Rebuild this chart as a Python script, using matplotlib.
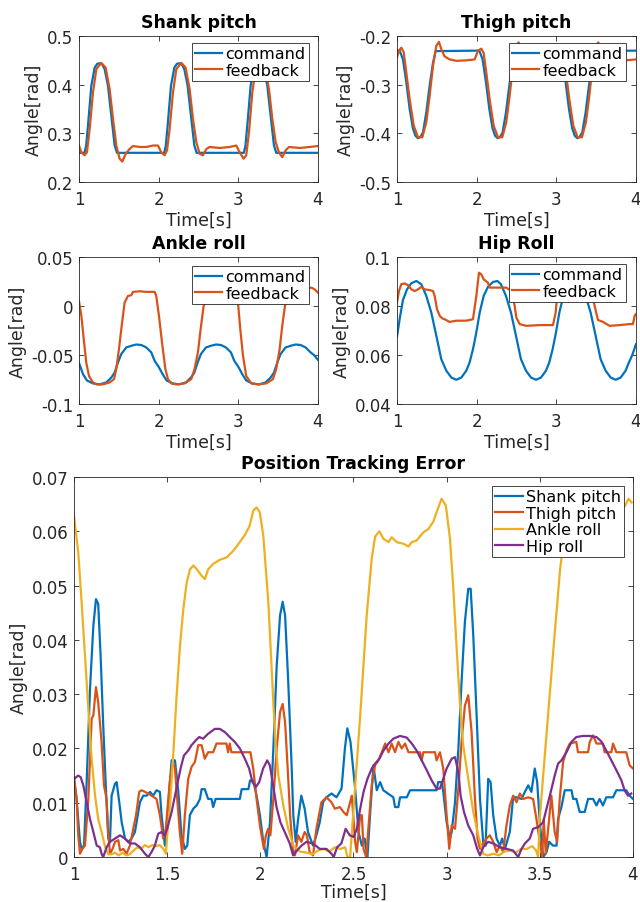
import matplotlib
matplotlib.use("Agg")
import matplotlib.pyplot as plt

plt.rcParams['font.family'] = ['DejaVu Sans']
plt.rcParams['axes.unicode_minus'] = False

C_BLUE = '#0072BD'
C_RED = '#D95319'
C_YEL = '#EDB120'
C_PUR = '#7E2F8E'

# ---------------- Shank pitch ----------------
shank_cmd_t = [1.0, 1.07, 1.09, 1.113, 1.155, 1.197, 1.23, 1.26, 1.29, 1.322, 1.364, 1.406, 1.448, 1.477,
               2.07, 2.09, 2.113, 2.155, 2.197, 2.23, 2.26, 2.29, 2.322, 2.364, 2.406, 2.448, 2.477,
               3.07, 3.09, 3.113, 3.155, 3.197, 3.23, 3.26, 3.29, 3.322, 3.364, 3.406, 3.448, 3.477, 4.0]
shank_cmd_v = [0.26, 0.26, 0.275, 0.316, 0.398, 0.435, 0.443, 0.444, 0.442, 0.432, 0.398, 0.336, 0.275, 0.26,
               0.26, 0.275, 0.316, 0.398, 0.435, 0.443, 0.444, 0.442, 0.432, 0.398, 0.336, 0.275, 0.26,
               0.26, 0.275, 0.316, 0.398, 0.435, 0.443, 0.444, 0.442, 0.432, 0.398, 0.336, 0.275, 0.26, 0.26]
shank_fb_t = [1.0, 1.03, 1.07, 1.1, 1.134, 1.176, 1.218, 1.28, 1.335, 1.385, 1.427, 1.469, 1.51, 1.544,
              1.586, 1.636, 1.678, 1.762, 1.845, 1.929, 1.992, 2.033, 2.075, 2.105, 2.138, 2.18, 2.222,
              2.285, 2.339, 2.389, 2.431, 2.473, 2.515, 2.556, 2.6, 2.64, 2.766, 2.891, 2.975, 3.017,
              3.067, 3.1, 3.134, 3.176, 3.218, 3.28, 3.335, 3.385, 3.427, 3.469, 3.51, 3.552, 3.594,
              3.636, 3.77, 3.895, 4.0]
shank_fb_v = [0.275, 0.261, 0.255, 0.261, 0.309, 0.384, 0.432, 0.445, 0.435, 0.391, 0.33, 0.275, 0.248, 0.242,
              0.258, 0.268, 0.274, 0.272, 0.272, 0.275, 0.275, 0.261, 0.255, 0.265, 0.309, 0.384, 0.432,
              0.445, 0.435, 0.391, 0.33, 0.282, 0.258, 0.255, 0.268, 0.272, 0.270, 0.272, 0.275, 0.261,
              0.248, 0.255, 0.302, 0.384, 0.432, 0.445, 0.435, 0.391, 0.33, 0.282, 0.261, 0.251, 0.265,
              0.272, 0.270, 0.272, 0.274]

# ---------------- Thigh pitch ----------------
thigh_cmd_t = [1.0, 1.033, 1.075, 1.117, 1.159, 1.2, 1.232, 1.264, 1.295, 1.326, 1.368, 1.41, 1.452, 1.485,
               2.033, 2.075, 2.117, 2.159, 2.2, 2.232, 2.264, 2.295, 2.326, 2.368, 2.41, 2.452, 2.485,
               3.033, 3.075, 3.117, 3.159, 3.2, 3.232, 3.264, 3.295, 3.326, 3.368, 3.41, 3.452, 3.485, 4.0]
thigh_cmd_v = [-0.23, -0.23, -0.248, -0.295, -0.35, -0.39, -0.405, -0.41, -0.407, -0.398, -0.357, -0.302, -0.255, -0.231,
               -0.23, -0.248, -0.295, -0.35, -0.39, -0.405, -0.41, -0.407, -0.398, -0.357, -0.302, -0.255, -0.231,
               -0.23, -0.248, -0.295, -0.35, -0.39, -0.405, -0.41, -0.407, -0.398, -0.357, -0.302, -0.255, -0.231, -0.23]
thigh_fb_t = [1.0, 1.025, 1.054, 1.084, 1.117, 1.159, 1.21, 1.264, 1.318, 1.368, 1.41, 1.452, 1.494, 1.527,
              1.556, 1.598, 1.661, 1.745, 1.87, 1.975, 2.017, 2.059, 2.088, 2.121, 2.163, 2.213, 2.268,
              2.322, 2.372, 2.414, 2.456, 2.498, 2.527, 2.556, 2.6, 2.66, 2.75, 2.87, 2.975, 3.017,
              3.059, 3.088, 3.121, 3.163, 3.213, 3.268, 3.322, 3.372, 3.414, 3.456, 3.498, 3.527, 3.556,
              3.6, 3.66, 3.75, 3.87, 4.0]
thigh_fb_v = [-0.244, -0.23, -0.224, -0.233, -0.275, -0.33, -0.384, -0.408, -0.408, -0.377, -0.323, -0.261, -0.22, -0.212,
              -0.227, -0.242, -0.248, -0.251, -0.25, -0.248, -0.23, -0.226, -0.235, -0.275, -0.33, -0.384, -0.408,
              -0.408, -0.377, -0.323, -0.261, -0.22, -0.213, -0.227, -0.242, -0.248, -0.251, -0.25, -0.248, -0.23,
              -0.226, -0.235, -0.275, -0.33, -0.384, -0.408, -0.408, -0.377, -0.323, -0.261, -0.22, -0.213, -0.227,
              -0.242, -0.248, -0.251, -0.25, -0.248]

# ---------------- Ankle roll ----------------
ankle_cmd_t = [1.0, 1.05, 1.1, 1.176, 1.26, 1.343, 1.406, 1.448, 1.49, 1.531, 1.594, 1.657, 1.72, 1.782, 1.845, 1.908, 1.95,
               2.0, 2.05, 2.1, 2.176, 2.26, 2.343, 2.406, 2.448, 2.49, 2.531, 2.594, 2.657, 2.72, 2.782, 2.845, 2.908, 2.95,
               3.0, 3.05, 3.1, 3.176, 3.26, 3.343, 3.406, 3.448, 3.49, 3.531, 3.594, 3.657, 3.72, 3.782, 3.845, 3.908, 3.95, 4.0]
ankle_cmd_v = [-0.058, -0.0695, -0.076, -0.079, -0.08, -0.078, -0.073, -0.068, -0.0576, -0.049, -0.0423, -0.0406, -0.0393, -0.0398, -0.0423, -0.0474, -0.056,
               -0.062, -0.0695, -0.076, -0.079, -0.08, -0.078, -0.073, -0.068, -0.0576, -0.049, -0.0423, -0.0406, -0.0393, -0.0398, -0.0423, -0.0474, -0.056,
               -0.062, -0.0695, -0.076, -0.079, -0.08, -0.078, -0.073, -0.068, -0.0576, -0.049, -0.0423, -0.0406, -0.0393, -0.0398, -0.0423, -0.0474, -0.050, -0.055]
ankle_fb_t = [1.0, 1.03, 1.06, 1.092, 1.126, 1.176, 1.218, 1.3, 1.385, 1.44, 1.469, 1.502, 1.536, 1.573, 1.615, 1.657,
              1.678, 1.762, 1.845, 1.95, 1.97, 2.004, 2.042, 2.084, 2.117, 2.159, 2.222, 2.326, 2.41, 2.452, 2.494,
              2.527, 2.565, 2.6, 2.65, 2.75, 2.9, 2.97, 2.996, 3.025, 3.059, 3.1, 3.163, 3.247, 3.351, 3.435, 3.477,
              3.519, 3.552, 3.586, 3.62, 3.7, 3.8, 3.916, 3.958, 4.0]
ankle_fb_v = [0.0052, -0.01, -0.034, -0.058, -0.0715, -0.078, -0.08, -0.08, -0.078, -0.0746, -0.064, -0.044, -0.0203, 0.0035, 0.0103, 0.011,
              0.0144, 0.015, 0.0144, 0.0144, 0.0103, -0.01, -0.037, -0.064, -0.0746, -0.079, -0.08, -0.079, -0.0746, -0.064, -0.047,
              -0.0237, 0.0, 0.010, 0.013, 0.015, 0.015, 0.012, 0.0035, -0.0237, -0.0508, -0.0715, -0.079, -0.08, -0.079, -0.0746, -0.064,
              -0.044, -0.0203, 0.0, 0.010, 0.014, 0.016, 0.0188, 0.017, 0.0137]

# ---------------- Hip roll ----------------
hip_cmd_t = [1.0, 1.033, 1.075, 1.126, 1.18, 1.243, 1.305, 1.368, 1.431, 1.494, 1.556, 1.619, 1.682, 1.745, 1.808, 1.87, 1.912, 1.954,
             1.996, 2.038, 2.088, 2.142, 2.205, 2.26, 2.305, 2.368, 2.431, 2.494, 2.556, 2.619, 2.682, 2.745, 2.808, 2.87, 2.912, 2.954,
             2.996, 3.038, 3.088, 3.142, 3.205, 3.26, 3.305, 3.368, 3.431, 3.494, 3.556, 3.619, 3.682, 3.745, 3.808, 3.87, 3.912, 3.954, 4.0]
hip_cmd_v = [0.0675, 0.0746, 0.0825, 0.0868, 0.0893, 0.0902, 0.0889, 0.0841, 0.0773, 0.0678, 0.0583, 0.0536, 0.0508, 0.0499, 0.0508, 0.0536, 0.057, 0.0624,
             0.0692, 0.0773, 0.0841, 0.0878, 0.0898, 0.0902, 0.0889, 0.0841, 0.0773, 0.0678, 0.0583, 0.0536, 0.0508, 0.0499, 0.0508, 0.0536, 0.057, 0.0624,
             0.0692, 0.0773, 0.0841, 0.0878, 0.0898, 0.0902, 0.0889, 0.0841, 0.0773, 0.0678, 0.0583, 0.0536, 0.0508, 0.0499, 0.0508, 0.0536, 0.057, 0.0600, 0.0644]
hip_fb_t = [1.0, 1.025, 1.054, 1.096, 1.138, 1.18, 1.222, 1.264, 1.305, 1.347, 1.41, 1.452, 1.473, 1.502, 1.536, 1.569,
            1.598, 1.661, 1.745, 1.87, 1.954, 1.996, 2.029, 2.059, 2.088, 2.142, 2.163, 2.247, 2.372, 2.435, 2.456, 2.477,
            2.498, 2.54, 2.623, 2.791, 2.958, 2.992, 3.02, 3.06, 3.1, 3.2, 3.35, 3.45, 3.481, 3.523, 3.586, 3.669,
            3.795, 3.92, 3.962, 3.983, 4.0]
hip_fb_v = [0.0814, 0.0861, 0.0889, 0.0892, 0.0885, 0.0868, 0.0861, 0.0868, 0.0878, 0.0868, 0.0865, 0.0861, 0.0841, 0.0787, 0.076, 0.0749,
            0.0746, 0.0735, 0.074, 0.074, 0.0746, 0.0841, 0.0936, 0.0929, 0.0909, 0.0895, 0.0875, 0.0875, 0.0875, 0.0861, 0.0841, 0.08,
            0.0753, 0.0726, 0.0719, 0.0722, 0.0722, 0.0773, 0.088, 0.090, 0.089, 0.088, 0.087, 0.085, 0.08, 0.0743, 0.0735, 0.0719,
            0.0722, 0.0726, 0.0726, 0.076, 0.0767]

# ---------------- Position tracking error ----------------
err_shank_t = [1.0, 1.014, 1.032, 1.041, 1.054, 1.068, 1.086, 1.104, 1.118, 1.13, 1.143, 1.157, 1.172, 1.184, 1.193, 1.202,
               1.22, 1.229, 1.243, 1.256, 1.274, 1.291, 1.309, 1.327, 1.354, 1.372, 1.39, 1.408, 1.425, 1.443, 1.461, 1.47,
               1.488, 1.5, 1.524, 1.542, 1.56, 1.577, 1.595, 1.608, 1.622, 1.64, 1.658, 1.676, 1.685, 1.702, 1.72, 1.738,
               1.747, 1.76, 1.89, 1.9, 1.936, 1.945, 1.962, 1.98, 1.998, 2.016, 2.034, 2.052, 2.07, 2.088, 2.106, 2.12,
               2.133, 2.15, 2.168, 2.177, 2.19, 2.203, 2.22, 2.238, 2.256, 2.283, 2.301, 2.319, 2.337, 2.355, 2.382, 2.409,
               2.436, 2.454, 2.467, 2.484, 2.5, 2.509, 2.527, 2.545, 2.56, 2.575, 2.589, 2.607, 2.625, 2.643, 2.66, 2.714,
               2.723, 2.741, 2.75, 2.786, 2.804, 2.946, 2.955, 2.973, 2.982, 3.0, 3.018, 3.027, 3.045, 3.063, 3.08, 3.098,
               3.116, 3.129, 3.143, 3.161, 3.179, 3.196, 3.209, 3.223, 3.236, 3.25, 3.268, 3.286, 3.298, 3.313, 3.339, 3.357,
               3.375, 3.402, 3.42, 3.438, 3.455, 3.473, 3.486, 3.5, 3.518, 3.536, 3.55, 3.571, 3.59, 3.598, 3.616, 3.634,
               3.67, 3.679, 3.696, 3.714, 3.741, 3.759, 3.786, 3.804, 3.821, 3.839, 3.857, 3.893, 3.911, 3.964, 3.982, 4.0]
err_shank_v = [0.0144, 0.0107, 0.0028, 0.0015, 0.0021, 0.0138, 0.031, 0.0426, 0.0475, 0.0466, 0.037, 0.0242, 0.012, 0.0034, 0.0028, 0.0113,
               0.0135, 0.0138, 0.0101, 0.0064, 0.0034, 0.0028, 0.0034, 0.0046, 0.0101, 0.0113, 0.0113, 0.012, 0.0113, 0.0123, 0.012, 0.0077,
               0.0021, 0.007, 0.0178, 0.0178, 0.012, 0.004, 0.0015, 0.0021, 0.0077, 0.0089, 0.0095, 0.0107, 0.0125, 0.0125, 0.0107, 0.0107,
               0.0092, 0.0107, 0.0107, 0.0125, 0.0125, 0.0141, 0.0141, 0.0113, 0.0077, 0.0028, 0.0, 0.0064, 0.0199, 0.0353, 0.0445, 0.047,
               0.0445, 0.0322, 0.0169, 0.0077, 0.0028, 0.007, 0.0113, 0.0089, 0.0046, 0.0021, 0.004, 0.0064, 0.0101, 0.011, 0.0117, 0.011,
               0.0126, 0.02, 0.0237, 0.0212, 0.0156, 0.0126, 0.0046, 0.0021, 0.0034, 0.0, 0.0077, 0.0169, 0.0123, 0.0138, 0.0123, 0.011,
               0.0092, 0.0092, 0.011, 0.011, 0.0123, 0.0123, 0.0138, 0.0138, 0.012, 0.0064, 0.0034, 0.0046, 0.0101, 0.02, 0.0322, 0.0433,
               0.0494, 0.0494, 0.0408, 0.026, 0.0107, 0.0028, 0.0021, 0.0144, 0.0138, 0.0077, 0.0034, 0.0021, 0.0034, 0.0015, 0.0046, 0.011,
               0.011, 0.0107, 0.012, 0.0132, 0.012, 0.0163, 0.0138, 0.0064, 0.0, 0.0009, 0.0028, 0.0021, 0.0021, 0.007, 0.0092, 0.0123,
               0.0123, 0.0107, 0.0107, 0.0083, 0.0083, 0.0107, 0.0107, 0.0095, 0.0107, 0.0095, 0.011, 0.011, 0.0123, 0.0123, 0.0113, 0.0107]

err_thigh_t = [1.0, 1.014, 1.023, 1.032, 1.045, 1.059, 1.077, 1.095, 1.104, 1.118, 1.13, 1.148, 1.161, 1.175, 1.184, 1.193,
               1.207, 1.22, 1.238, 1.247, 1.265, 1.282, 1.3, 1.315, 1.333, 1.35, 1.363, 1.381, 1.399, 1.417, 1.443, 1.461,
               1.479, 1.493, 1.514, 1.529, 1.542, 1.554, 1.568, 1.581, 1.595, 1.613, 1.631, 1.649, 1.667, 1.685, 1.702, 1.72,
               1.747, 1.765, 1.818, 1.827, 1.836, 1.845, 1.947, 1.962, 1.98, 1.998, 2.019, 2.03, 2.042, 2.054, 2.07, 2.088,
               2.106, 2.12, 2.133, 2.147, 2.16, 2.174, 2.186, 2.203, 2.22, 2.238, 2.25, 2.265, 2.283, 2.301, 2.328, 2.355,
               2.382, 2.4, 2.427, 2.446, 2.464, 2.491, 2.509, 2.518, 2.536, 2.545, 2.554, 2.568, 2.58, 2.598, 2.616, 2.634,
               2.652, 2.67, 2.688, 2.705, 2.723, 2.741, 2.759, 2.777, 2.795, 2.857, 2.866, 2.875, 2.938, 2.946, 2.964, 2.982,
               3.0, 3.014, 3.027, 3.045, 3.063, 3.08, 3.098, 3.116, 3.134, 3.152, 3.166, 3.179, 3.196, 3.214, 3.232, 3.25,
               3.268, 3.286, 3.304, 3.321, 3.339, 3.357, 3.375, 3.393, 3.411, 3.438, 3.464, 3.482, 3.5, 3.513, 3.521, 3.532,
               3.545, 3.562, 3.58, 3.593, 3.607, 3.625, 3.643, 3.661, 3.696, 3.705, 3.759, 3.768, 3.786, 3.804, 3.839, 3.848,
               3.884, 3.893, 3.911, 3.964, 3.982, 4.0]
err_thigh_v = [0.0147, 0.0107, 0.004, 0.0006, 0.0015, 0.0021, 0.0107, 0.0255, 0.0261, 0.0313, 0.0285, 0.0212, 0.0132, 0.0107, 0.0046, 0.0006,
               0.0015, 0.0028, 0.0031, 0.0012, 0.0015, 0.0006, 0.0021, 0.0046, 0.0077, 0.012, 0.0123, 0.012, 0.0117, 0.0113, 0.0107, 0.0077,
               0.0034, 0.0052, 0.0138, 0.0175, 0.0163, 0.0107, 0.0046, 0.0006, 0.0077, 0.0144, 0.0166, 0.0175, 0.0206, 0.0206, 0.0181, 0.0193,
               0.0193, 0.0209, 0.0209, 0.0193, 0.0209, 0.0193, 0.0193, 0.0163, 0.0107, 0.0058, 0.0015, 0.004, 0.0052, 0.004, 0.0107, 0.02,
               0.0267, 0.0282, 0.0248, 0.0163, 0.0077, 0.0015, 0.0003, 0.004, 0.0028, 0.0046, 0.004, 0.0009, 0.0003, 0.0052, 0.0101, 0.011,
               0.0101, 0.0089, 0.0092, 0.0083, 0.0077, 0.0113, 0.0028, 0.0009, 0.0077, 0.0077, 0.0015, 0.0, 0.0052, 0.0132, 0.0169, 0.0178,
               0.0193, 0.0209, 0.0193, 0.0209, 0.0193, 0.0212, 0.02, 0.0209, 0.0193, 0.0193, 0.0178, 0.0193, 0.0193, 0.0178, 0.0193, 0.0163,
               0.0077, 0.0015, 0.0058, 0.0052, 0.0126, 0.0212, 0.0279, 0.0298, 0.023, 0.0107, 0.0034, 0.0015, 0.0025, 0.0034, 0.004, 0.0028,
               0.0009, 0.0021, 0.0009, 0.0058, 0.0095, 0.0113, 0.0101, 0.0117, 0.0107, 0.011, 0.0107, 0.007, 0.0028, 0.0, 0.007, 0.0006,
               0.0052, 0.0113, 0.0046, 0.0028, 0.0107, 0.0175, 0.0196, 0.0209, 0.0212, 0.0193, 0.0193, 0.0212, 0.0224, 0.0209, 0.0209, 0.0193,
               0.0193, 0.0209, 0.0193, 0.0193, 0.0169, 0.0163]

err_ankle_t = [1.0, 1.023, 1.041, 1.059, 1.077, 1.095, 1.113, 1.13, 1.149, 1.166, 1.184, 1.2, 1.22, 1.24, 1.26, 1.28,
               1.3, 1.32, 1.34, 1.36, 1.38, 1.4, 1.42, 1.44, 1.46, 1.48, 1.493, 1.503, 1.515, 1.533, 1.551, 1.569,
               1.587, 1.605, 1.623, 1.641, 1.659, 1.685, 1.703, 1.72, 1.748, 1.78, 1.82, 1.855, 1.89, 1.917, 1.943, 1.962,
               1.98, 1.997, 2.016, 2.043, 2.061, 2.079, 2.097, 2.124, 2.15, 2.177, 2.213, 2.25, 2.28, 2.31, 2.34, 2.37,
               2.4, 2.43, 2.455, 2.468, 2.482, 2.536, 2.571, 2.598, 2.616, 2.639, 2.661, 2.688, 2.705, 2.732, 2.768, 2.795,
               2.813, 2.839, 2.875, 2.902, 2.929, 2.946, 2.973, 2.996, 3.018, 3.036, 3.054, 3.071, 3.089, 3.116, 3.143, 3.17,
               3.196, 3.22, 3.25, 3.28, 3.31, 3.34, 3.37, 3.4, 3.43, 3.46, 3.48, 3.491, 3.501, 3.537, 3.573, 3.609,
               3.627, 3.7, 3.8, 3.9, 3.958, 3.976, 3.993]
err_ankle_v = [0.0629, 0.0561, 0.0469, 0.0371, 0.0273, 0.018, 0.0113, 0.007, 0.0045, 0.002, 0.0005, 0.0005, 0.0008, 0.0003, 0.0008, 0.0003,
               0.0005, 0.0012, 0.0018, 0.0015, 0.0022, 0.0018, 0.0022, 0.002, 0.0022, 0.0015, 0.0006, 0.005, 0.0093, 0.019, 0.0298, 0.039,
               0.0457, 0.0506, 0.053, 0.0537, 0.053, 0.0518, 0.0512, 0.053, 0.054, 0.0547, 0.0552, 0.0564, 0.058, 0.0593, 0.061, 0.0638,
               0.0644, 0.0635, 0.0592, 0.047, 0.0346, 0.0223, 0.015, 0.0094, 0.0052, 0.0021, 0.001, 0.0008, 0.0005, 0.0012, 0.0015, 0.001,
               0.0018, 0.0015, 0.0018, 0.0, 0.0, 0.026, 0.0445, 0.055, 0.059, 0.060, 0.0586, 0.058, 0.0589, 0.058, 0.0577, 0.0572,
               0.058, 0.0583, 0.0598, 0.0604, 0.0618, 0.0635, 0.066, 0.0647, 0.0586, 0.0494, 0.0383, 0.0285, 0.0206, 0.0144, 0.0083, 0.004,
               0.0006, 0.0003, 0.0006, 0.0003, 0.001, 0.0012, 0.0008, 0.0015, 0.0015, 0.002, 0.0012, 0.0, 0.0077, 0.023, 0.0383, 0.053,
               0.058, 0.060, 0.061, 0.063, 0.0647, 0.066, 0.0653]

err_hip_t = [1.0, 1.023, 1.036, 1.05, 1.068, 1.086, 1.104, 1.122, 1.139, 1.148, 1.157, 1.175, 1.193, 1.22, 1.247, 1.273,
             1.3, 1.327, 1.354, 1.381, 1.399, 1.416, 1.434, 1.452, 1.47, 1.488, 1.5, 1.524, 1.55, 1.572, 1.59, 1.613,
             1.631, 1.654, 1.672, 1.693, 1.72, 1.756, 1.783, 1.81, 1.836, 1.863, 1.89, 1.917, 1.94, 1.958, 1.976, 1.994,
             2.015, 2.037, 2.051, 2.069, 2.087, 2.108, 2.131, 2.158, 2.176, 2.197, 2.221, 2.248, 2.283, 2.319, 2.355, 2.382,
             2.394, 2.412, 2.435, 2.458, 2.48, 2.501, 2.518, 2.536, 2.554, 2.575, 2.598, 2.616, 2.639, 2.661, 2.688, 2.714,
             2.75, 2.786, 2.813, 2.839, 2.866, 2.893, 2.92, 2.946, 2.964, 2.982, 3.0, 3.027, 3.045, 3.063, 3.075, 3.093,
             3.116, 3.143, 3.164, 3.179, 3.196, 3.223, 3.25, 3.286, 3.321, 3.357, 3.384, 3.402, 3.42, 3.446, 3.464, 3.491,
             3.518, 3.536, 3.554, 3.58, 3.598, 3.616, 3.643, 3.67, 3.696, 3.732, 3.768, 3.804, 3.83, 3.857, 3.884, 3.911,
             3.938, 3.955, 3.973, 3.991]
err_hip_v = [0.0144, 0.015, 0.0147, 0.0132, 0.0101, 0.007, 0.0046, 0.0021, 0.0018, 0.0006, 0.0, 0.0018, 0.0028, 0.0034, 0.004, 0.0034,
             0.0025, 0.0025, 0.0018, 0.0006, 0.0, 0.0009, 0.0021, 0.0043, 0.0046, 0.004, 0.0052, 0.0083, 0.0126, 0.0163, 0.0187, 0.0196,
             0.0206, 0.0215, 0.0221, 0.0218, 0.0227, 0.0236, 0.0236, 0.023, 0.0221, 0.0212, 0.02, 0.0181, 0.0163, 0.0138, 0.0129, 0.0138,
             0.0163, 0.0178, 0.0169, 0.0132, 0.0092, 0.0064, 0.0046, 0.0025, 0.0003, 0.0012, 0.0021, 0.0028, 0.0025, 0.0015, 0.0015, 0.0006,
             0.0, 0.0018, 0.0025, 0.0052, 0.004, 0.0037, 0.0052, 0.0089, 0.012, 0.0144, 0.0163, 0.0172, 0.0181, 0.0196, 0.0209, 0.0218,
             0.0223, 0.022, 0.0209, 0.0196, 0.0178, 0.016, 0.0141, 0.0126, 0.0126, 0.0144, 0.0163, 0.0181, 0.0184, 0.0156, 0.0113, 0.0083,
             0.0058, 0.004, 0.0015, 0.0003, 0.0018, 0.0028, 0.0025, 0.0018, 0.0015, 0.0012, 0.0, 0.0015, 0.0025, 0.0034, 0.0052, 0.0055,
             0.0064, 0.0089, 0.0113, 0.015, 0.0172, 0.0178, 0.0193, 0.0212, 0.0221, 0.0223, 0.0223, 0.0221, 0.0213, 0.0196, 0.0178, 0.016,
             0.0141, 0.0123, 0.0113, 0.0117]

# ---------------- figure ----------------
FS_TICK = 12
FS_LAB = 12.5
FS_LEG = 11.5
LW = 1.6
fig = plt.figure(figsize=(6.4, 9.03), dpi=100)

def style(ax, title, xticks, xlabels, yticks, ylabels, ylim, xlim=(1, 4), xlabelpad=2):
    ax.set_xlim(*xlim)
    ax.set_ylim(*ylim)
    ax.set_xticks(xticks)
    ax.set_xticklabels(xlabels)
    ax.set_yticks(yticks)
    ax.set_yticklabels(ylabels)
    ax.tick_params(direction='in', top=True, right=True, length=3.5, width=0.6,
                   labelsize=FS_TICK, colors='#262626')
    ax.tick_params(axis='x', pad=6)
    ax.tick_params(axis='y', pad=4)
    for s in ax.spines.values():
        s.set_color('#262626')
        s.set_linewidth(0.6)
    ax.set_title(title, fontsize=12.5, fontweight='bold', color='black', pad=6.5)
    ax.set_xlabel('Time[s]', fontsize=FS_LAB, color='#262626', labelpad=xlabelpad)
    ax.set_ylabel('Angle[rad]', fontsize=FS_LAB, color='#262626', labelpad=3)

def legend(ax, anchor):
    lg = ax.legend(loc='upper right', bbox_to_anchor=anchor, borderaxespad=0,
                   fontsize=FS_LEG, handlelength=1.7, handletextpad=0.2, borderpad=0.2,
                   labelspacing=0.1, frameon=True, fancybox=False, framealpha=1)
    lg.get_frame().set_edgecolor('#262626')
    lg.get_frame().set_linewidth(0.6)

x4 = [1, 2, 3, 4]
x4l = ['1', '2', '3', '4']

ax1 = fig.add_axes([0.1234, 0.7973, 0.3734, 0.1617])
ax1.plot(shank_cmd_t, shank_cmd_v, color=C_BLUE, lw=LW, label='command')
ax1.plot(shank_fb_t, shank_fb_v, color=C_RED, lw=LW, label='feedback')
style(ax1, 'Shank pitch', x4, x4l, [0.2, 0.3, 0.4, 0.5], ['0.2', '0.3', '0.4', '0.5'], (0.2, 0.5))
legend(ax1, (0.962, 0.952))

ax2 = fig.add_axes([0.6203, 0.7973, 0.3734, 0.1617])
ax2.plot(thigh_cmd_t, thigh_cmd_v, color=C_BLUE, lw=LW, label='command')
ax2.plot(thigh_fb_t, thigh_fb_v, color=C_RED, lw=LW, label='feedback')
style(ax2, 'Thigh pitch', x4, x4l, [-0.5, -0.4, -0.3, -0.2], ['-0.5', '-0.4', '-0.3', '-0.2'], (-0.5, -0.2))
legend(ax2, (0.958, 0.952))

ax3 = fig.add_axes([0.1234, 0.5515, 0.3734, 0.1628])
ax3.plot(ankle_cmd_t, ankle_cmd_v, color=C_BLUE, lw=LW, label='command')
ax3.plot(ankle_fb_t, ankle_fb_v, color=C_RED, lw=LW, label='feedback')
style(ax3, 'Ankle roll', x4, x4l, [-0.1, -0.05, 0.0, 0.05], ['-0.1', '-0.05', '0', '0.05'], (-0.1, 0.05))
legend(ax3, (0.962, 0.939))

ax4 = fig.add_axes([0.6203, 0.5515, 0.3734, 0.1628])
ax4.plot(hip_cmd_t, hip_cmd_v, color=C_BLUE, lw=LW, label='command')
ax4.plot(hip_fb_t, hip_fb_v, color=C_RED, lw=LW, label='feedback')
style(ax4, 'Hip Roll', x4, x4l, [0.04, 0.06, 0.08, 0.1], ['0.04', '0.06', '0.08', '0.1'], (0.04, 0.1))
legend(ax4, (0.958, 0.952))

ax5 = fig.add_axes([0.1156, 0.0498, 0.8734, 0.4209])
ax5.plot(err_shank_t, err_shank_v, color=C_BLUE, lw=LW, label='Shank pitch')
ax5.plot(err_thigh_t, err_thigh_v, color=C_RED, lw=LW, label='Thigh pitch')
ax5.plot(err_ankle_t, err_ankle_v, color=C_YEL, lw=LW, label='Ankle roll')
ax5.plot(err_hip_t, err_hip_v, color=C_PUR, lw=LW, label='Hip roll')
style(ax5, 'Position Tracking Error', [1, 1.5, 2, 2.5, 3, 3.5, 4],
      ['1', '1.5', '2', '2.5', '3', '3.5', '4'],
      [0, 0.01, 0.02, 0.03, 0.04, 0.05, 0.06, 0.07],
      ['0', '0.01', '0.02', '0.03', '0.04', '0.05', '0.06', '0.07'], (0, 0.07), xlabelpad=-0.5)
legend(ax5, (0.984, 0.976))

fig.savefig('out.png', dpi=100)
